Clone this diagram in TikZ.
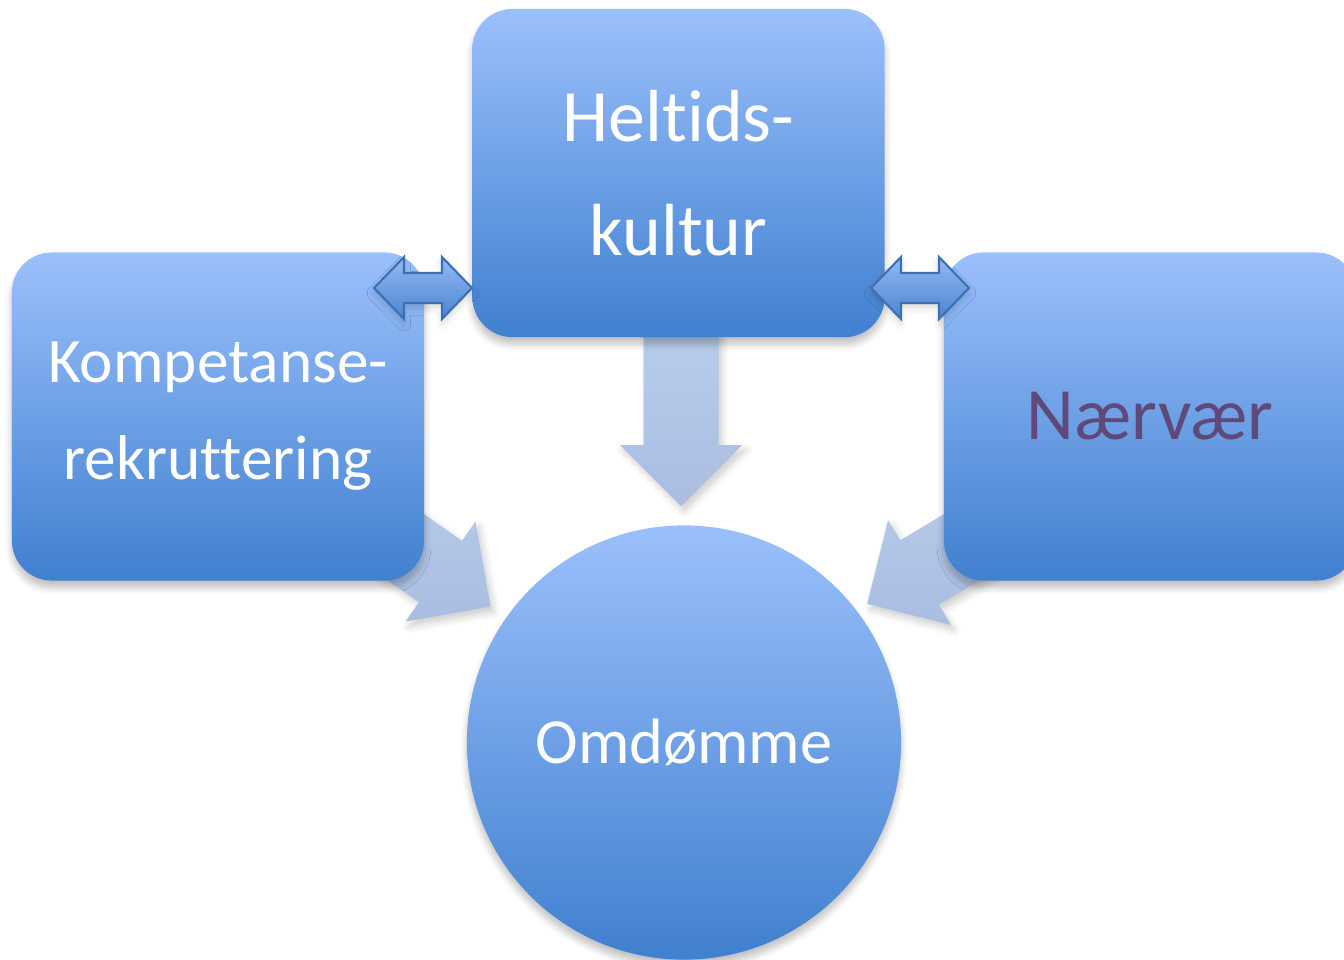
\documentclass[tikz,border=0pt]{standalone}
\usepackage{fontspec}
\setmainfont[Ligatures=NoCommon]{Carlito}
\usetikzlibrary{positioning, shadows.blur}

\definecolor{boxtop}{HTML}{9BC0FC}
\definecolor{boxbot}{HTML}{4080CF}
\definecolor{arrtop}{HTML}{BACDEC}
\definecolor{arrbot}{HTML}{A8BDE1}
\definecolor{dbltop}{HTML}{94B9F3}
\definecolor{dblbot}{HTML}{4A85D0}
\definecolor{dbledge}{HTML}{3D6FB3}
\definecolor{naertext}{HTML}{5F497A}

\tikzset{
    pics/blockarrow/.style={code={% Wide arrow pointing along +x, base of head at origin
        \path[arrowbody] (-#1,-37.5) -- (0,-37.5) -- (0,-61) -- (61,0)
            -- (0,61) -- (0,37.5) -- (-#1,37.5) -- cycle;
    }},
    pics/dblarrow/.style={code={% Two headed arrow between boxes
        \path[dblbody] (-49,0) -- (-19,-31) -- (-19,-15) -- (19,-15) -- (19,-31)
            -- (49,0) -- (19,31) -- (19,15) -- (-19,15) -- (-19,31) -- cycle;
    }},
}

\begin{document}
\begin{tikzpicture}[
    % GLOBAL CFG
    x=0.01cm, y=-0.01cm,
    % Styles
    box/.style={% For the three rounded boxes
        rectangle,
        rounded corners=4mm,
        minimum width=4.12cm,
        minimum height=3.28cm,
        top color=boxtop,
        bottom color=boxbot,
        text=white,
        align=center,
        blur shadow={shadow xshift=0pt, shadow yshift=-2pt, shadow blur steps=6, shadow opacity=25},
    },
    goal/.style={% For the circle at the bottom
        circle,
        minimum size=4.34cm,
        top color=boxtop,
        bottom color=boxbot,
        text=white,
        blur shadow={shadow xshift=0pt, shadow yshift=-2pt, shadow blur steps=6, shadow opacity=25},
    },
    arrowbody/.style={% For the pale wide arrows
        top color=arrtop,
        bottom color=arrbot,
        blur shadow={shadow xshift=1pt, shadow yshift=-1.5pt, shadow blur steps=5, shadow opacity=20},
    },
    dblbody/.style={% For the small double arrows
        top color=dbltop,
        bottom color=dblbot,
        draw=dbledge,
        line width=.6pt,
        line join=miter,
        blur shadow={shadow xshift=0pt, shadow yshift=-1.5pt, shadow blur steps=4, shadow opacity=15},
    },
    ]
    \useasboundingbox (0,0) rectangle (1344,960);

    % Coordinates
    \coordinate (downbase) at (681,445);
    \coordinate (leftbase) at (440.5,571.5);
    \coordinate (rightbase) at (919.5,572.5);
    \coordinate (leftdbl) at (423,288);
    \coordinate (rightdbl) at (920,288);

    % Draw wide arrows towards the circle
    \pic[rotate=-90] at (downbase) {blockarrow=130};
    \pic[rotate=-35] at (leftbase) {blockarrow=150};
    \pic[rotate=-149] at (rightbase) {blockarrow=150};

    % Draw boxes and circle
    \node [box, font=\fontsize{21}{32.4}\selectfont] (heltid) at (678.5,173) {Heltids-\\kultur};
    \node [box, font=\fontsize{18}{27.6}\selectfont] (kompet) at (218,416.5) {Kompetanse-\\rekruttering};
    \node [box, text=naertext, font=\fontsize{21}{28}\selectfont] (naer) at (1150,416.5) {Nærvær};
    \node [goal, font=\fontsize{18.3}{24}\selectfont] (omd) at (684,742.5) {Omdømme};

    % Draw double arrows between the boxes
    \pic at (leftdbl) {dblarrow};
    \pic at (rightdbl) {dblarrow};

\end{tikzpicture}
\end{document}
